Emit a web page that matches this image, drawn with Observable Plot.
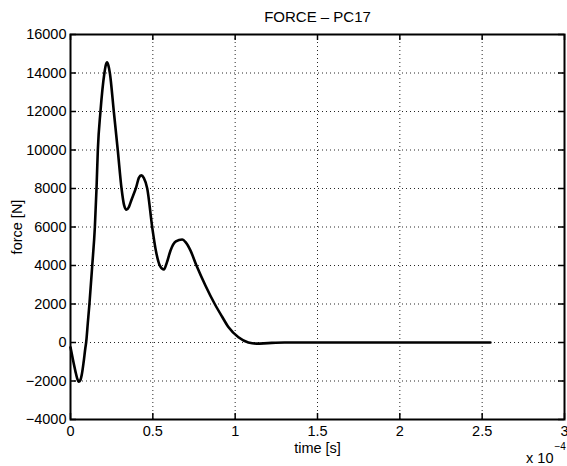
<!DOCTYPE html>
<html>
<head>
<meta charset="utf-8">
<script src="https://cdn.jsdelivr.net/npm/d3@7"></script>
<script src="https://cdn.jsdelivr.net/npm/@observablehq/plot@0.6"></script>
<style>
  html, body { margin: 0; padding: 0; background: #fff; }
  #chart svg { display: block; }
</style>
</head>
<body>
<div id="chart"></div>
<script>
// time in units of 1e-4 s
const time = [0, 0.015, 0.03, 0.04, 0.05, 0.06, 0.07, 0.08, 0.09, 0.095, 0.105, 0.115, 0.132, 0.148, 0.158, 0.166, 0.182, 0.206, 0.214, 0.222, 0.23, 0.239, 0.263, 0.287, 0.31, 0.325, 0.34, 0.355, 0.37, 0.40, 0.415, 0.43, 0.445, 0.466, 0.496, 0.52, 0.545, 0.567, 0.585, 0.607, 0.64, 0.678, 0.70, 0.729, 0.765, 0.82, 0.876, 0.92, 0.96, 1.02, 1.08, 1.13, 1.2, 1.3, 1.6, 2.0, 2.55];
const force = [-250, -900, -1500, -1850, -2030, -1950, -1600, -1000, -300, 0, 1000, 2000, 4000, 6000, 8000, 10000, 12000, 14000, 14400, 14560, 14400, 14000, 12000, 10000, 8000, 7150, 6900, 7050, 7400, 8100, 8550, 8680, 8550, 8000, 6000, 4700, 3950, 3790, 4150, 4770, 5250, 5350, 5200, 4770, 4000, 2950, 2000, 1350, 790, 270, 0, -60, -30, 0, 0, 0, 0];
const xTicks = [0, 0.5, 1, 1.5, 2, 2.5, 3];
const yTicks = [-4000, -2000, 0, 2000, 4000, 6000, 8000, 10000, 12000, 14000, 16000];
const titleText = "FORCE – PC17";
const xLabel = "time [s]";
const yLabel = "force [N]";
const expBase = "x 10";
const expPower = "−4";

const data = time.map((t, i) => ({t, f: force[i]}));

const W = 567, H = 466;
const mL = 70, mR = 3, mT = 34, mB = 47;
const fw = W - mL - mR, fh = H - mT - mB;
const font = "'Liberation Sans', Arial, Helvetica, sans-serif";

const chart = Plot.plot({
  width: W,
  height: H,
  marginLeft: mL,
  marginRight: mR,
  marginTop: mT,
  marginBottom: mB,
  style: {fontFamily: font, fontSize: "14.5px", color: "#000", background: "#fff", overflow: "visible"},
  x: {domain: [0, 3], ticks: xTicks},
  y: {domain: [-4000, 16000], ticks: yTicks},
  marks: [
    Plot.gridX(xTicks, {stroke: "#000", strokeOpacity: 0.85, strokeDasharray: "1,3"}),
    Plot.gridY(yTicks, {stroke: "#000", strokeOpacity: 0.85, strokeDasharray: "1,3"}),
    // inward ticks (MATLAB style) on all four sides
    Plot.tickX(xTicks, {x: d => d, insetTop: fh - 6, stroke: "#000", strokeWidth: 1.5}),
    Plot.tickX(xTicks, {x: d => d, insetBottom: fh - 6, stroke: "#000", strokeWidth: 1.5}),
    Plot.tickY(yTicks, {y: d => d, insetRight: fw - 6, stroke: "#000", strokeWidth: 1.5}),
    Plot.tickY(yTicks, {y: d => d, insetLeft: fw - 6, stroke: "#000", strokeWidth: 1.5}),
    Plot.line(data, {x: "t", y: "f", curve: "monotone-x", stroke: "#000", strokeWidth: 2.6}),
    Plot.frame({stroke: "#000", strokeWidth: 2}),
    Plot.axisX(xTicks, {tickSize: 0, tickPadding: 6, label: null, tickFormat: d => String(d), fontSize: 14.5}),
    Plot.axisY(yTicks, {tickSize: 0, tickPadding: 4, label: null, tickFormat: d3.format("d"), fontSize: 14.5}),
    Plot.text([titleText], {frameAnchor: "top", lineAnchor: "middle", dy: -17, fontSize: 15, fill: "#000"}),
    Plot.text([xLabel], {frameAnchor: "bottom", lineAnchor: "middle", dy: 29, fontSize: 14.5, fill: "#000"}),
    Plot.text([yLabel], {frameAnchor: "left", textAnchor: "middle", lineAnchor: "middle", dx: -53, rotate: -90, fontSize: 14.5, fill: "#000"}),
    Plot.text([expBase], {frameAnchor: "bottom-right", textAnchor: "end", lineAnchor: "middle", dx: -11, dy: 39, fontSize: 14.5, fill: "#000"}),
    Plot.text([expPower], {frameAnchor: "bottom-right", textAnchor: "start", lineAnchor: "middle", dx: -10, dy: 27, fontSize: 10, fill: "#000"})
  ]
});
document.getElementById("chart").appendChild(chart);
</script>
</body>
</html>
